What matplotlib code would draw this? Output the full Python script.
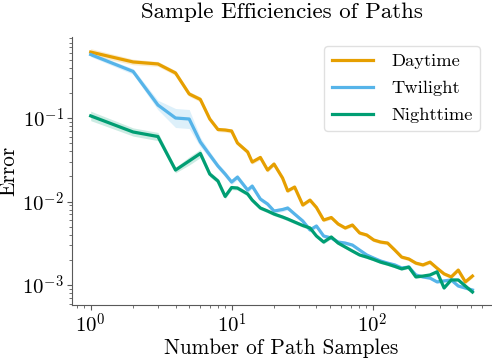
import numpy as np
import matplotlib
matplotlib.use("Agg")
import matplotlib.pyplot as plt
from matplotlib.ticker import FuncFormatter, LogLocator

plt.rcParams["font.family"] = "serif"
plt.rcParams["font.serif"] = ["cmr10"]
plt.rcParams["mathtext.fontset"] = "cm"
plt.rcParams["axes.formatter.use_mathtext"] = True

# number of path samples
samples = [1, 2, 3, 4, 5, 6, 7, 8, 9, 10, 11, 13, 14, 16, 18, 20, 23, 25, 28, 32,
           36, 40, 45, 51, 57, 64, 72, 81, 91, 102, 114, 128, 144, 161, 181, 203,
           228, 256, 287, 322, 362, 406, 456, 512]

# mean error per series
err_day = [0.616, 0.469, 0.444, 0.346, 0.194, 0.167, 0.0973, 0.0728, 0.0718, 0.0699,
           0.0502, 0.0392, 0.0297, 0.0337, 0.0238, 0.0281, 0.0191, 0.0134, 0.0149, 0.00908,
           0.0104, 0.00848, 0.0060, 0.00643, 0.00538, 0.00482, 0.00523, 0.0042, 0.00397, 0.00346,
           0.00327, 0.00318, 0.00262, 0.00216, 0.00205, 0.00183, 0.00174, 0.00188, 0.00159, 0.00136,
           0.00125, 0.00151, 0.00109, 0.00128]
err_twi = [0.575, 0.361, 0.143, 0.100, 0.0973, 0.0516, 0.0361, 0.0266, 0.0213, 0.0171,
           0.0196, 0.0137, 0.0153, 0.0107, 0.00933, 0.00769, 0.00802, 0.00836, 0.00708, 0.00584,
           0.00456, 0.00509, 0.00386, 0.00366, 0.00327, 0.00318, 0.00301, 0.00262, 0.00229, 0.00210,
           0.00194, 0.00183, 0.00174, 0.00160, 0.00164, 0.00132, 0.00125, 0.00121, 0.00109, 0.00112,
           0.00115, 0.000973, 0.000921, 0.000871]
err_night = [0.106, 0.068, 0.060, 0.0238, 0.0306, 0.0376, 0.0213, 0.0176, 0.0115, 0.0147,
             0.0145, 0.0123, 0.0104, 0.00836, 0.00769, 0.00708, 0.00652, 0.00617, 0.00568, 0.00516,
             0.00482, 0.00386, 0.00327, 0.00376, 0.00318, 0.00285, 0.00255, 0.00229, 0.00216, 0.00202,
             0.00188, 0.00178, 0.00167, 0.00156, 0.00164, 0.00125, 0.00128, 0.00132, 0.00144, 0.000921,
             0.00115, 0.00115, 0.000973, 0.000824]

# relative half-width of the shaded confidence band
spread_day = [0.10, 0.08, 0.07, 0.07, 0.07, 0.07, 0.06, 0.06, 0.06, 0.06,
              0.06, 0.06, 0.06, 0.06, 0.06, 0.06, 0.05, 0.05, 0.05, 0.05,
              0.05, 0.05, 0.05, 0.05, 0.05, 0.05, 0.05, 0.05, 0.05, 0.05,
              0.05, 0.05, 0.05, 0.05, 0.05, 0.05, 0.05, 0.05, 0.05, 0.05,
              0.05, 0.05, 0.05, 0.05]
spread_twi = [0.06, 0.08, 0.14, 0.30, 0.30, 0.14, 0.10, 0.08, 0.08, 0.07,
              0.08, 0.07, 0.07, 0.06, 0.06, 0.06, 0.06, 0.06, 0.05, 0.05,
              0.06, 0.06, 0.05, 0.05, 0.05, 0.05, 0.04, 0.04, 0.04, 0.04,
              0.04, 0.04, 0.04, 0.04, 0.04, 0.04, 0.04, 0.04, 0.04, 0.04,
              0.04, 0.04, 0.04, 0.04]
spread_night = [0.14, 0.12, 0.12, 0.08, 0.12, 0.12, 0.08, 0.07, 0.07, 0.06,
                0.06, 0.06, 0.06, 0.05, 0.05, 0.05, 0.05, 0.05, 0.05, 0.05,
                0.05, 0.05, 0.05, 0.05, 0.04, 0.04, 0.04, 0.04, 0.04, 0.04,
                0.04, 0.04, 0.04, 0.04, 0.04, 0.04, 0.04, 0.04, 0.04, 0.04,
                0.04, 0.04, 0.04, 0.04]

labels = ["Daytime", "Twilight", "Nighttime"]
colors = ["#E69F00", "#56B4E9", "#009E73"]

fig = plt.figure(figsize=(4.92, 3.58), dpi=100)
ax = fig.add_subplot(111)
fig.subplots_adjust(left=0.1457, right=0.999, bottom=0.148, top=0.8966)

x = np.array(samples)
for err, spread, lab, col in zip([err_day, err_twi, err_night],
                                 [spread_day, spread_twi, spread_night],
                                 labels, colors):
    err = np.array(err)
    spread = np.array(spread)
    ax.fill_between(x, err / (1 + spread), err * (1 + spread), color=col,
                    alpha=0.2, linewidth=0)
    ax.plot(x, err, color=col, lw=2.3, label=lab)

ax.set_xscale("log")
ax.set_yscale("log")
ax.set_xlim(0.733, 699)
ax.set_ylim(5.76e-4, 0.933)

fmt = FuncFormatter(lambda v, pos: r"$10^{%d}$" % round(np.log10(v)))
ax.xaxis.set_major_formatter(fmt)
ax.yaxis.set_major_formatter(fmt)
ax.xaxis.set_major_locator(LogLocator(base=10))
ax.yaxis.set_major_locator(LogLocator(base=10))

for side in ["top", "right"]:
    ax.spines[side].set_visible(False)
for side in ["left", "bottom"]:
    ax.spines[side].set_linewidth(0.8)
    ax.spines[side].set_color("0.35")
ax.tick_params(which="major", length=3.5, width=0.8, color="0.35", labelsize=15, pad=2)
ax.tick_params(which="minor", length=2, width=0.6, color="0.35")

ax.set_title("Sample Efficiencies of Paths", fontsize=16.5, pad=14)
ax.set_xlabel("Number of Path Samples", fontsize=15.3, labelpad=1)
ax.set_ylabel("Error", fontsize=15.3, labelpad=3)

leg = ax.legend(loc="upper right", fontsize=13.3, frameon=True, fancybox=True,
                handlelength=2.2, handletextpad=1.0, borderpad=0.4, labelspacing=0.6,
                borderaxespad=0, bbox_to_anchor=(0.972, 0.966))
leg.get_frame().set_edgecolor("0.85")
for line in leg.get_lines():
    line.set_linewidth(2.3)

fig.savefig("out.png", dpi=100)
